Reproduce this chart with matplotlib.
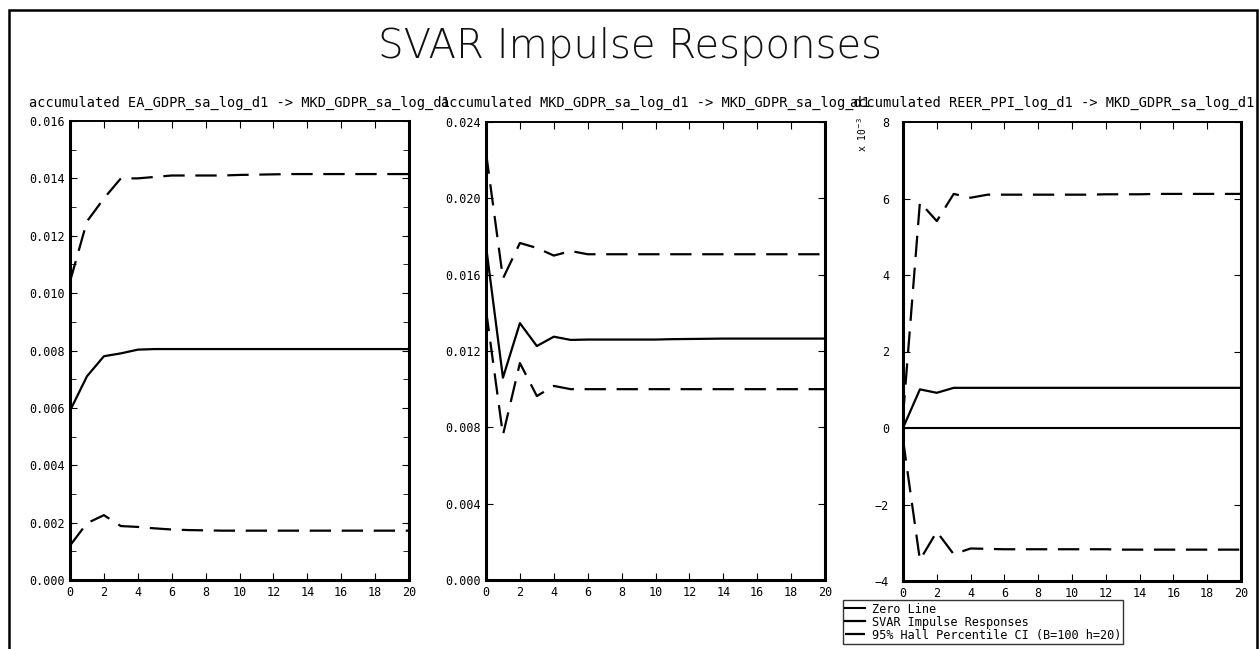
import matplotlib
matplotlib.use("Agg")
import matplotlib.pyplot as plt
from matplotlib.patches import Rectangle
from matplotlib.ticker import MultipleLocator

# =====================
# data
# =====================
horizon = list(range(21))

# accumulated EA_GDPR_sa_log_d1 -> MKD_GDPR_sa_log_d1
ea_irf = [0.0059, 0.0071, 0.0078, 0.0079, 0.00803, 0.00805, 0.00805, 0.00805, 0.00805, 0.00805,
          0.00805, 0.00805, 0.00805, 0.00805, 0.00805, 0.00805, 0.00805, 0.00805, 0.00805, 0.00805, 0.00805]
ea_upper = [0.0104, 0.0125, 0.0133, 0.0140, 0.0140, 0.01405, 0.0141, 0.0141, 0.0141, 0.0141,
            0.01412, 0.01413, 0.01414, 0.01415, 0.01415, 0.01415, 0.01415, 0.01415, 0.01415, 0.01415, 0.01415]
ea_lower = [0.0012, 0.00198, 0.00226, 0.00188, 0.00185, 0.0018, 0.00176, 0.00174, 0.00173, 0.00172,
            0.00172, 0.00172, 0.00172, 0.00172, 0.00172, 0.00172, 0.00172, 0.00172, 0.00172, 0.00172, 0.00172]

# accumulated MKD_GDPR_sa_log_d1 -> MKD_GDPR_sa_log_d1
mkd_irf = [0.0175, 0.0106, 0.01346, 0.01226, 0.01275, 0.01258, 0.0126, 0.0126, 0.0126, 0.0126,
           0.0126, 0.01262, 0.01263, 0.01264, 0.01265, 0.01265, 0.01265, 0.01265, 0.01265, 0.01265, 0.01265]
mkd_upper = [0.0224, 0.0158, 0.01766, 0.0174, 0.0170, 0.01724, 0.01707, 0.01707, 0.01707, 0.01707,
             0.01707, 0.01707, 0.01707, 0.01707, 0.01707, 0.01707, 0.01707, 0.01707, 0.01707, 0.01707, 0.01707]
mkd_lower = [0.01415, 0.0076, 0.01137, 0.00964, 0.01017, 0.0100, 0.0100, 0.0100, 0.0100, 0.0100,
             0.0100, 0.0100, 0.0100, 0.0100, 0.0100, 0.0100, 0.0100, 0.0100, 0.0100, 0.0100, 0.0100]

# accumulated REER_PPI_log_d1 -> MKD_GDPR_sa_log_d1 (x 10^-3)
reer_irf = [0.0, 1.01, 0.92, 1.05, 1.05, 1.05, 1.05, 1.05, 1.05, 1.05,
            1.05, 1.05, 1.05, 1.05, 1.05, 1.05, 1.05, 1.05, 1.05, 1.05, 1.05]
reer_upper = [0.3, 5.9, 5.41, 6.12, 6.02, 6.1, 6.1, 6.1, 6.1, 6.1,
              6.1, 6.1, 6.11, 6.11, 6.11, 6.12, 6.12, 6.12, 6.12, 6.12, 6.12]
reer_lower = [-0.3, -3.45, -2.71, -3.3, -3.15, -3.16, -3.17, -3.17, -3.17, -3.17,
              -3.17, -3.17, -3.17, -3.18, -3.18, -3.18, -3.18, -3.18, -3.18, -3.18, -3.18]
zero_line = [0.0] * 21

titles = [
    "accumulated EA_GDPR_sa_log_d1 -> MKD_GDPR_sa_log_d1",
    "accumulated MKD_GDPR_sa_log_d1 -> MKD_GDPR_sa_log_d1",
    "accumulated REER_PPI_log_d1 -> MKD_GDPR_sa_log_d1",
]
legend_labels = ["Zero Line", "SVAR Impulse Responses", "95% Hall Percentile CI (B=100 h=20)"]

# =====================
# figure
# =====================
W, H = 1259, 649
fig = plt.figure(figsize=(W / 100, H / 100), dpi=100, facecolor="white")

mono = "DejaVu Sans Mono"
dash = (0, (9.6, 4.8))

# outer frame (bottom edge cut off in the reference)
fig.patches.append(Rectangle((9 / W, -0.05), (1257 - 9) / W, 1.05 - 10 / H,
                             transform=fig.transFigure, fill=False,
                             edgecolor="black", linewidth=1.8))

fig.text(0.5, 1 - 47 / H, "SVAR Impulse Responses", ha="center", va="center",
         fontsize=29, fontweight="light", family="DejaVu Sans", color="#111111")

# panel boxes in pixels: left, top, right, bottom
boxes = [(70, 121, 409, 580), (486, 122, 825, 580), (903, 122, 1241, 581)]
panels = [
    (ea_irf, ea_upper, ea_lower, (0, 0.016), 0.002, 0.001, "{:.3f}"),
    (mkd_irf, mkd_upper, mkd_lower, (0, 0.024), 0.004, None, "{:.3f}"),
    (reer_irf, reer_upper, reer_lower, (-4, 8), 2, None, "{:g}"),
]


def tick_text(v, fmt):
    if abs(v) < 1e-12:
        v = 0
    return fmt.format(v).replace("-", "\u2212")


axes = []
for i, ((l, t, r, b), (irf, up, lo, ylim, major, minor, fmt)) in enumerate(zip(boxes, panels)):
    ax = fig.add_axes([l / W, 1 - b / H, (r - l) / W, (b - t) / H])
    axes.append(ax)

    if i == 2:
        ax.plot(horizon, zero_line, color="black", lw=1.5, label=legend_labels[0])
    ax.plot(horizon, irf, color="black", lw=1.6, label=legend_labels[1])
    ax.plot(horizon, up, color="black", lw=1.6, linestyle=dash, label=legend_labels[2])
    ax.plot(horizon, lo, color="black", lw=1.6, linestyle=dash)

    ax.set_xlim(0, 20)
    ax.set_ylim(*ylim)
    ax.xaxis.set_major_locator(MultipleLocator(2))
    ax.yaxis.set_major_locator(MultipleLocator(major))
    if minor:
        ax.yaxis.set_minor_locator(MultipleLocator(minor))
        ax.tick_params(axis="y", which="minor", direction="in", length=4, right=True, left=True)
    ax.yaxis.set_major_formatter(plt.FuncFormatter(lambda v, p, f=fmt: tick_text(v, f)))
    ax.tick_params(which="major", direction="in", length=5, top=True, right=True,
                   labelsize=8.5, pad=4)
    if i == 2:
        ax.tick_params(axis="y", pad=10)
    for lab in ax.get_xticklabels() + ax.get_yticklabels():
        lab.set_family(mono)
    for side in ["left", "bottom", "right"]:
        ax.spines[side].set_linewidth(2.2)
    ax.spines["top"].set_linewidth(1.4)

    # panel headings run into each other as in the reference; the last one
    # is pinned to the frame so it stays inside the picture
    if i < 2:
        fig.text((l + r) / 2 / W, 1 - 103 / H, titles[i], ha="center", va="center",
                 fontsize=9.8, family=mono, color="black")
    else:
        fig.text(1254 / W, 1 - 103 / H, titles[i], ha="right", va="center",
                 fontsize=9.8, family=mono, color="black")

# scale note on the right panel
fig.text(862 / W, 1 - 134 / H, r"x 10$^{-3}$", rotation=90, ha="center", va="center",
         fontsize=7, family=mono)

# legend under the right panel
handles, labels = axes[2].get_legend_handles_labels()
leg = fig.legend(handles, labels, loc="lower left",
                 bbox_to_anchor=(843 / W, 1 - 644 / H), prop={"family": mono, "size": 8.6},
                 frameon=True, fancybox=False, edgecolor="black", borderpad=0.2,
                 labelspacing=0.0, handlelength=1.6, handletextpad=0.6, borderaxespad=0)
leg.get_frame().set_linewidth(1.0)

fig.savefig("out.png", dpi=100, facecolor="white")
